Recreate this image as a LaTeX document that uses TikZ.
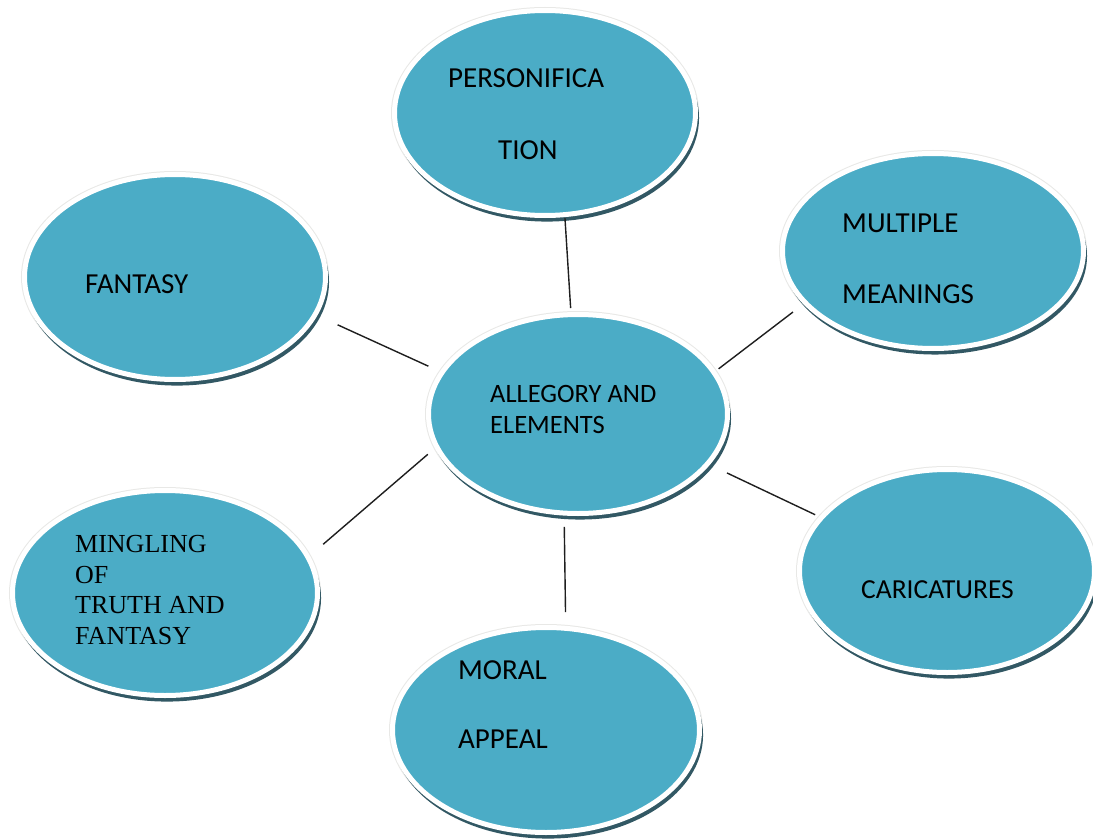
\documentclass[tikz,border=0pt]{standalone}
\usepackage{fontspec}
\setmainfont{Carlito}
\newfontfamily\timesf{Liberation Serif}
\usetikzlibrary{shapes.geometric,shadows}
\definecolor{bubblec}{RGB}{75,172,198}
\definecolor{shadowc}{RGB}{50,88,100}
\definecolor{rimc}{RGB}{232,232,230}
\definecolor{linec}{RGB}{30,30,30}
\tikzset{
  bubble/.style={ellipse, draw=white, line width=5pt, fill=bubblec,
    outer sep=0pt, inner sep=0pt,
    preaction={draw=rimc, line width=7pt},
    drop shadow={shadow xshift=2pt, shadow yshift=-5pt, shadow scale=1.01,
      fill=shadowc, opacity=1}},
  lbl/.style={anchor=base west, inner sep=0pt, font=\fontsize{29}{35}\selectfont},
  lblc/.style={lbl, font=\fontsize{26.5}{32}\selectfont},
  lblk/.style={lbl, font=\fontsize{27.5}{33}\selectfont},
  lblt/.style={lbl, font=\timesf\fontsize{26}{31}\selectfont},
  link/.style={draw=linec, line width=1.4pt},
}
\begin{document}
\begin{tikzpicture}[x=1pt, y=-1pt]
\clip (0,0) rectangle (1093,840);
\fill[white] (0,0) rectangle (1093,840);

% bubbles
\node[bubble, minimum width=301pt, minimum height=205pt] (pers) at (545,113) {};
\node[bubble, minimum width=301pt, minimum height=205pt] (fan)  at (175,277) {};
\node[bubble, minimum width=301pt, minimum height=195pt] (mul)  at (933,251) {};
\node[bubble, minimum width=299pt, minimum height=199pt] (cen)  at (578,414) {};
\node[bubble, minimum width=305pt, minimum height=205pt] (min)  at (165,593) {};
\node[bubble, minimum width=295pt, minimum height=203pt] (car)  at (947,571) {};
\node[bubble, minimum width=307pt, minimum height=205pt] (mor)  at (546,730) {};

% texts
\node[lbl] (pers1) at (448,88) {PERSONIFICA};
\node[lbl] (pers2) at (498,160) {TION};
\node[lbl] (fan1) at (85,293) {FANTASY};
\node[lbl] (mul1) at (842,232) {MULTIPLE};
\node[lbl] (mul2) at (842,303) {MEANINGS};
\node[lblc] (cen1) at (490,402) {ALLEGORY AND};
\node[lblc] (cen2) at (490,433) {ELEMENTS};
\node[lblk] (car1) at (861,598) {CARICATURES};
\node[lbl] (mor1) at (458,679) {MORAL};
\node[lbl] (mor2) at (458,748) {APPEAL};
\node[lblt] (min1) at (75,552) {MINGLING};
\node[lblt] (min2) at (75,583) {OF};
\node[lblt] (min3) at (75,613) {TRUTH AND};
\node[lblt] (min4) at (75,644) {FANTASY};

% connectors
\draw[link, shorten <=24.8pt, shorten >=15.2pt] (fan.-15.4) -- (cen.163.9);
\draw[link, shorten <=20pt, shorten >=11.8pt] (min.14.2) -- (cen.193.3);
\draw[link, shorten <=15.5pt, shorten >=6pt] (mul.202) -- (cen.17.4);
\draw[link, shorten <=7pt, shorten >=21.5pt] (car.157.1) -- (cen.-21);
\draw[link, shorten <=3.4pt, shorten >=6.6pt] (pers.-79) -- (cen.94.4);
\draw[link, shorten <=16.3pt, shorten >=13.9pt] (mor.79.4) -- (cen.262.5);
\end{tikzpicture}
\end{document}
